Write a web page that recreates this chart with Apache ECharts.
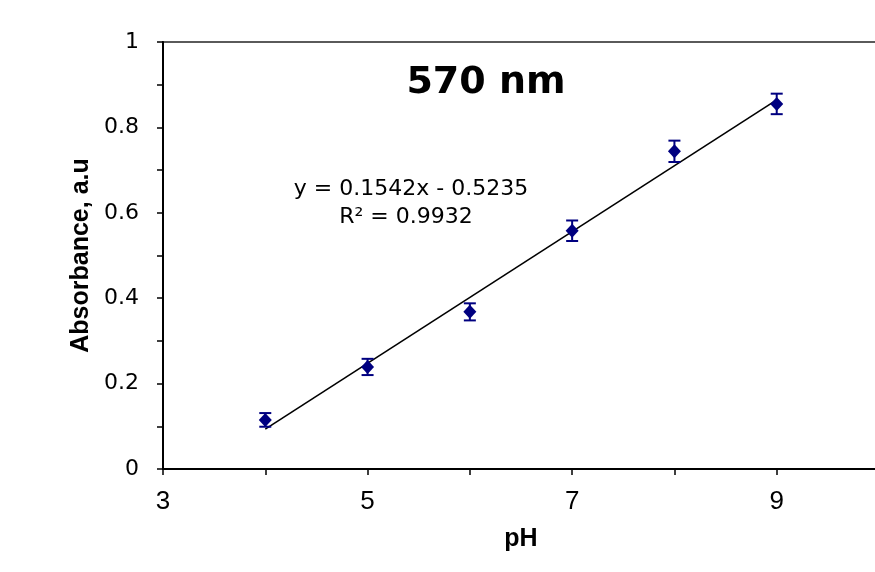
<!DOCTYPE html>
<html>
<head>
<meta charset="utf-8">
<script src="https://cdn.jsdelivr.net/npm/echarts@6/dist/echarts.min.js"></script>
<style>
html,body{margin:0;padding:0;background:#fff;}
#chart{width:875px;height:572px;}
</style>
</head>
<body>
<div id="chart"></div>
<script>
// Data
var phValues = [4, 5, 6, 7, 8, 9];
var absorbance = [0.115, 0.239, 0.368, 0.558, 0.744, 0.855];
var errorSize = [0.016, 0.019, 0.020, 0.024, 0.025, 0.024];
var trendLine = [[4, 0.0933], [9, 0.8643]];
var titleText = '570 nm';
var equationLines = ['y = 0.1542x - 0.5235', 'R\u00b2 = 0.9932'];
var xAxisName = 'pH';
var yAxisName = 'Absorbance, a.u';

var pointData = phValues.map(function (x, i) { return [x, absorbance[i]]; });
var errData = phValues.map(function (x, i) { return [x, absorbance[i] - errorSize[i], absorbance[i] + errorSize[i]]; });

var chart = echarts.init(document.getElementById('chart'), null, { renderer: 'canvas' });
var barColor = '#000080';

chart.setOption({
  backgroundColor: '#ffffff',
  animation: false,
  grid: {
    left: 163, width: 716, top: 42, height: 427,
    outerBoundsMode: 'none', containLabel: false,
    show: true, borderColor: '#5a5a5a', borderWidth: 2, backgroundColor: 'transparent'
  },
  xAxis: {
    type: 'value', min: 3, max: 10, interval: 1,
    name: xAxisName, nameLocation: 'middle', nameGap: 58,
    nameTextStyle: { fontFamily: 'Liberation Sans', fontWeight: 'bold', fontSize: 25, color: '#000' },
    axisLine: { show: true, onZero: false, lineStyle: { color: '#000', width: 2 } },
    axisTick: { show: true, inside: false, length: 6, lineStyle: { color: '#000', width: 1.5 } },
    axisLabel: {
      margin: 20, fontFamily: 'Liberation Sans', fontSize: 26, color: '#000',
      formatter: function (v) { return (Math.round(v) % 2 === 1) ? String(v) : ''; }
    },
    splitLine: { show: false }
  },
  yAxis: {
    type: 'value', min: 0, max: 1, interval: 0.1,
    name: yAxisName, nameLocation: 'middle', nameGap: 65, nameRotate: 90,
    nameTextStyle: { fontFamily: 'Liberation Sans', fontWeight: 'bold', fontSize: 25, color: '#000' },
    axisLine: { show: true, onZero: false, lineStyle: { color: '#000', width: 2 } },
    axisTick: { show: true, inside: false, length: 6, lineStyle: { color: '#000', width: 1.5 } },
    axisLabel: {
      margin: 24, fontFamily: 'DejaVu Sans', fontSize: 22, color: '#000',
      formatter: function (v) {
        var k = Math.round(v * 10);
        return (k % 2 === 0) ? String(+(k / 10).toFixed(1)) : '';
      }
    },
    splitLine: { show: false }
  },
  graphic: [
    {
      type: 'text', x: 486, y: 83,
      style: { text: titleText, font: 'bold 38px "DejaVu Sans"', fill: '#000', textAlign: 'center', textVerticalAlign: 'middle' }
    },
    {
      type: 'text', x: 411, y: 189,
      style: { text: equationLines[0], font: '22px "DejaVu Sans"', fill: '#000', textAlign: 'center', textVerticalAlign: 'middle' }
    },
    {
      type: 'text', x: 406, y: 217,
      style: { text: equationLines[1], font: '22px "DejaVu Sans"', fill: '#000', textAlign: 'center', textVerticalAlign: 'middle' }
    }
  ],
  series: [
    {
      type: 'line', data: trendLine, symbol: 'none', z: 2,
      lineStyle: { color: '#000', width: 1.6 }
    },
    {
      type: 'custom', z: 3,
      data: errData,
      renderItem: function (params, api) {
        var x = api.value(0);
        var lo = api.coord([x, api.value(1)]);
        var hi = api.coord([x, api.value(2)]);
        var hw = 6;
        var st = { stroke: barColor, lineWidth: 2 };
        return {
          type: 'group',
          children: [
            { type: 'line', shape: { x1: lo[0], y1: lo[1], x2: hi[0], y2: hi[1] }, style: st },
            { type: 'line', shape: { x1: lo[0] - hw, y1: lo[1], x2: lo[0] + hw, y2: lo[1] }, style: st },
            { type: 'line', shape: { x1: hi[0] - hw, y1: hi[1], x2: hi[0] + hw, y2: hi[1] }, style: st }
          ]
        };
      }
    },
    {
      type: 'scatter', data: pointData, z: 4,
      symbol: 'diamond', symbolSize: [13, 14],
      itemStyle: { color: barColor, opacity: 1 }
    }
  ]
});
</script>
</body>
</html>
